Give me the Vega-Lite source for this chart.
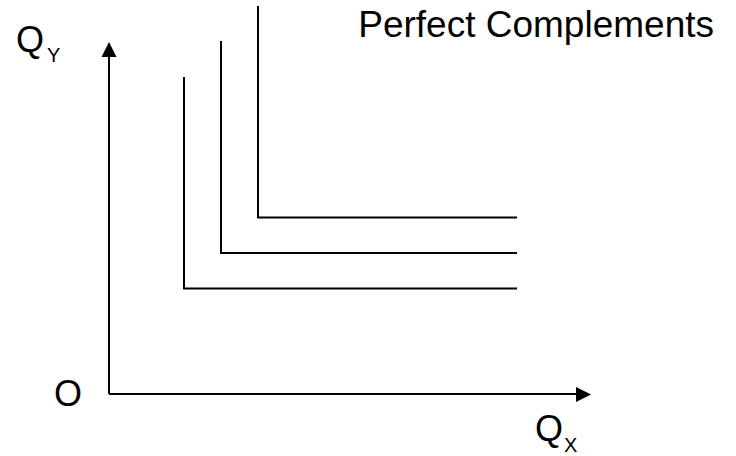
{
  "$schema": "https://vega.github.io/schema/vega-lite/v6.json",
  "width": 736,
  "height": 456,
  "autosize": {"type": "fit", "contains": "padding"},
  "padding": 0,
  "background": "white",
  "config": {"view": {"stroke": null}, "text": {"font": "Liberation Sans", "color": "black"}},
  "encoding": {
    "x": {"field": "x", "type": "quantitative", "scale": {"domain": [-109, 627], "nice": false, "zero": false}, "axis": null},
    "y": {"field": "y", "type": "quantitative", "scale": {"domain": [-62, 394], "nice": false, "zero": false}, "axis": null}
  },
  "layer": [
    {
      "data": {"values": [
        {"x": 0, "y": 0, "x2": 0, "y2": 337},
        {"x": 0, "y": 0, "x2": 467, "y2": 0}
      ]},
      "mark": {"type": "rule", "color": "black", "strokeWidth": 2},
      "encoding": {"x2": {"field": "x2"}, "y2": {"field": "y2"}}
    },
    {
      "data": {"values": [
        {"curve": "c1", "order": 1, "x": 75, "y": 317},
        {"curve": "c1", "order": 2, "x": 75, "y": 105.5},
        {"curve": "c1", "order": 3, "x": 408, "y": 105.5},
        {"curve": "c2", "order": 1, "x": 112, "y": 353},
        {"curve": "c2", "order": 2, "x": 112, "y": 141},
        {"curve": "c2", "order": 3, "x": 408, "y": 141},
        {"curve": "c3", "order": 1, "x": 149, "y": 388},
        {"curve": "c3", "order": 2, "x": 149, "y": 176.5},
        {"curve": "c3", "order": 3, "x": 408, "y": 176.5}
      ]},
      "mark": {"type": "line", "color": "black", "strokeWidth": 2, "strokeJoin": "miter", "strokeCap": "butt"},
      "encoding": {"detail": {"field": "curve"}, "order": {"field": "order", "type": "quantitative"}}
    },
    {
      "data": {"values": [{"x": 0, "y": 344.5}]},
      "mark": {"type": "point", "shape": "M0,-1L1,1L-1,1Z", "filled": true, "color": "black", "opacity": 1, "size": 225, "strokeWidth": 0}
    },
    {
      "data": {"values": [{"x": 474.5, "y": -0.5}]},
      "mark": {"type": "point", "shape": "M1,0L-1,-1L-1,1Z", "filled": true, "color": "black", "opacity": 1, "size": 225, "strokeWidth": 0}
    },
    {
      "data": {"values": [
        {"label": "Q", "x": -93, "y": 342},
        {"label": "Q", "x": 426, "y": -47},
        {"label": "O", "x": -55, "y": -12}
      ]},
      "mark": {"type": "text", "fontSize": 36, "align": "left", "baseline": "alphabetic"},
      "encoding": {"text": {"field": "label"}}
    },
    {
      "data": {"values": [
        {"label": "Y", "x": -62, "y": 332},
        {"label": "X", "x": 455, "y": -58}
      ]},
      "mark": {"type": "text", "fontSize": 20, "align": "left", "baseline": "alphabetic"},
      "encoding": {"text": {"field": "label"}}
    },
    {
      "data": {"values": [{"label": "Perfect Complements", "x": 605, "y": 357}]},
      "mark": {"type": "text", "fontSize": 37, "align": "right", "baseline": "alphabetic"},
      "encoding": {"text": {"field": "label"}}
    }
  ]
}
